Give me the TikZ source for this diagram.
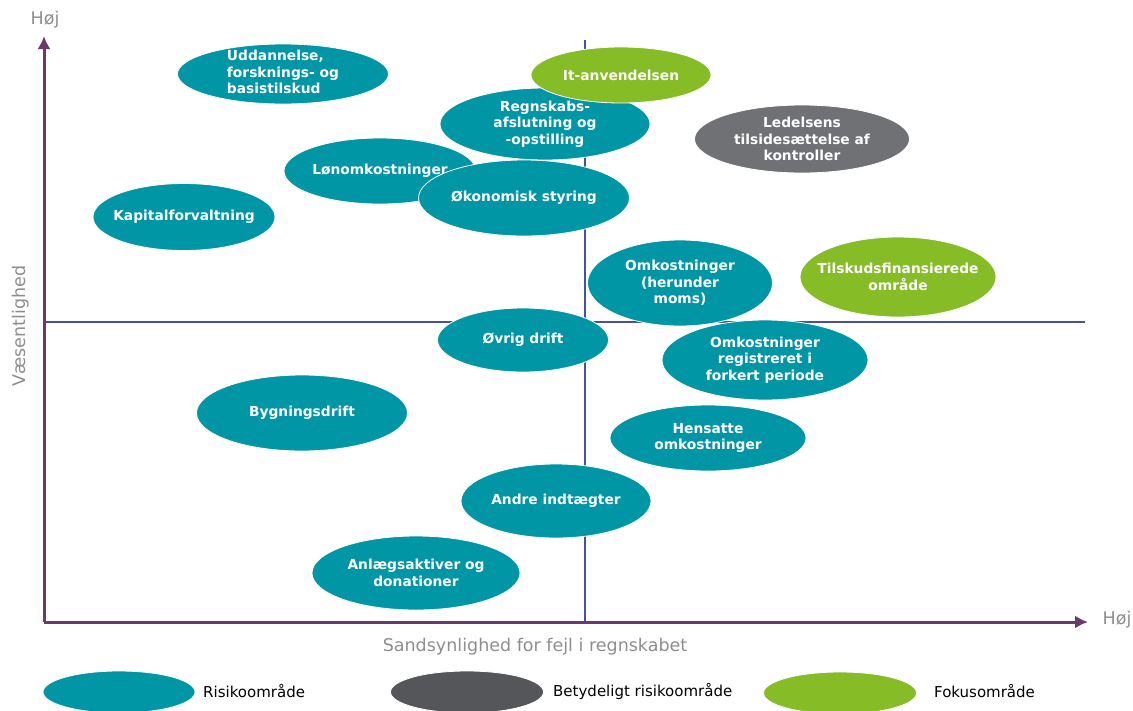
\documentclass[tikz,border=0pt]{standalone}
\usepackage{fontspec}
\setmainfont{DejaVu Sans}
\usetikzlibrary{shapes.geometric,arrows.meta}
\definecolor{riskteal}{HTML}{0096A6}
\definecolor{focusgreen}{HTML}{86BC25}
\definecolor{majorgrey}{HTML}{6F7174}
\definecolor{keygrey}{HTML}{54565A}
\definecolor{axispurple}{HTML}{6B3A6C}
\definecolor{crossblue}{HTML}{4352A6}
\definecolor{labelgrey}{HTML}{8E8E8E}
\tikzset{
	area/.style={ellipse, fill=#1, draw=white, line width=0.8pt, text=white, align=center,
		inner xsep=-20pt, inner ysep=-6pt,
		font=\bfseries\fontsize{13.8}{16.5}\selectfont},
	risk/.style={area=riskteal},
	focus/.style={area=focusgreen},
	major/.style={area=majorgrey},
	axis/.style={line width=3pt, axispurple, -{Latex[length=13pt,width=13pt]}},
	cross/.style={crossblue, line width=1.4pt},
	axislabel/.style={text=labelgrey, font=\fontsize{17.5}{20}\selectfont},
	keytext/.style={anchor=west, inner sep=0, font=\fontsize{15}{18}\selectfont},
}
\begin{document}
\begin{tikzpicture}[x=1pt,y=-1pt]
		\useasboundingbox (0,0) rectangle (1133,710);
		%% Quadrant lines
		\coordinate (vtop) at (585,40);
		\coordinate (vbot) at (585,622);
		\coordinate (hleft) at (44,322);
		\coordinate (hright) at (1085,322);
		\draw[cross] (vtop) -- (vbot);
		\draw[cross] (hleft) -- (hright);
		%% Areas
		\node[risk, minimum width=211pt, minimum height=60pt] (udd) at (283,74) {\begin{tabular}{@{}l@{}}Uddannelse,\\forsknings- og\\basistilskud\end{tabular}};
		\node[risk, minimum width=210pt, minimum height=72pt] (regn) at (545,124) {Regnskabs-\\afslutning og\\-opstilling};
		\node[focus, minimum width=180pt, minimum height=56pt] (it) at (621,75) {It-anvendelsen};
		\node[major, minimum width=215pt, minimum height=68pt] (ledelse) at (802,139) {Ledelsens\\tilsidesættelse af\\kontroller};
		\node[risk, minimum width=192pt, minimum height=66pt] (loen) at (380,171) {Lønomkostninger};
		\node[risk, minimum width=211pt, minimum height=76pt] (styring) at (524,198) {Økonomisk styring};
		\node[risk, minimum width=182pt, minimum height=67pt] (kapital) at (184,217) {Kapitalforvaltning};
		\node[risk, minimum width=185pt, minimum height=86pt] (moms) at (680,283) {Omkostninger\\(herunder\\moms)};
		\node[focus, minimum width=196pt, minimum height=80pt] (tilskud) at (898,277) {Tilskudsfinansierede\\område};
		\node[risk, minimum width=171pt, minimum height=64pt] (drift) at (523,340) {Øvrig drift};
		\node[risk, minimum width=206pt, minimum height=80pt] (periode) at (765,360) {Omkostninger\\registreret i\\forkert periode};
		\node[risk, minimum width=211pt, minimum height=76pt] (bygning) at (302,413) {Bygningsdrift};
		\node[risk, minimum width=196pt, minimum height=66pt] (hensat) at (708,438) {Hensatte\\omkostninger};
		\node[risk, minimum width=190pt, minimum height=74pt] (andre) at (556,501) {Andre indtægter};
		\node[risk, minimum width=208pt, minimum height=74pt] (anlaeg) at (416,573) {Anlægsaktiver og\\donationer};
		%% Axis
		\coordinate (origin) at (44,622);
		\coordinate (ytop) at (44,36);
		\coordinate (xend) at (1088,622);
		\draw[axis] (origin) -- (ytop);
		\draw[axis] (origin) -- (xend);
		\node[axislabel] (yhigh) at (45,20) {Høj};
		\node[axislabel] (xhigh) at (1117,620) {Høj};
		\node[axislabel, rotate=90] (ylabel) at (21,326) {Væsentlighed};
		\node[axislabel] (xlabel) at (535,647) {Sandsynlighed for fejl i regnskabet};
		%% Legend
		\node[area=riskteal, minimum width=152pt, minimum height=42pt] (keyrisk) at (119,692) {};
		\node[area=keygrey, minimum width=153pt, minimum height=42pt] (keymajor) at (467,692) {};
		\node[area=focusgreen, minimum width=153pt, minimum height=42pt] (keyfocus) at (840,693) {};
		\node[keytext] (keyrisktext) at (203,691) {Risikoområde};
		\node[keytext] (keymajortext) at (553,691) {Betydeligt risikoområde};
		\node[keytext] (keyfocustext) at (934,691) {Fokusområde};
	\end{tikzpicture}
\end{document}
